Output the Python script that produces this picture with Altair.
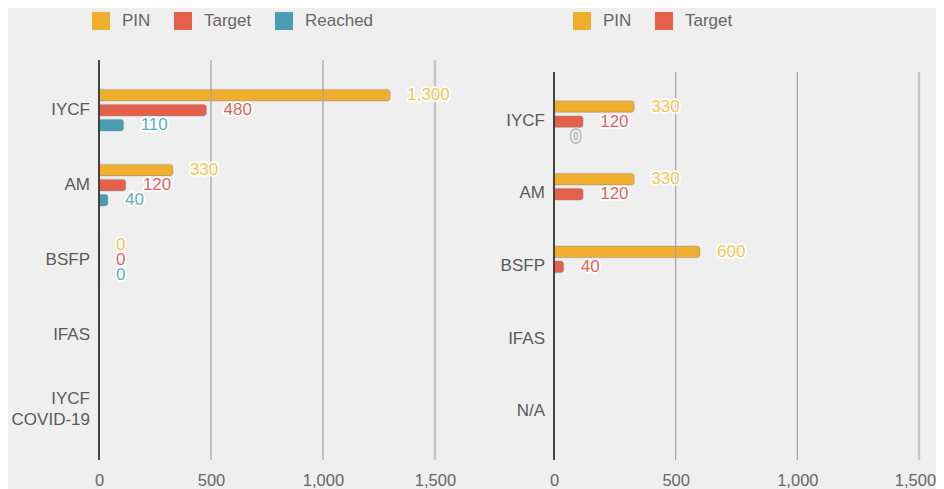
import altair as alt
import pandas as pd

# ---------------- data ----------------
series = ["PIN", "Target", "Reached"]

left_categories = ["IYCF", "AM", "BSFP", "IFAS", "IYCF COVID-19"]
left_with_data = ["IYCF", "AM", "BSFP"]
left_pin = [1300, 330, 0]
left_target = [480, 120, 0]
left_reached = [110, 40, 0]

right_categories = ["IYCF", "AM", "BSFP", "IFAS", "N/A"]
right_with_data = ["IYCF", "AM", "BSFP"]
right_pin = [330, 330, 600]
right_target = [120, 120, 40]
right_reached_cats = ["IYCF"]
right_reached = [0]

x_ticks = [0, 500, 1000, 1500]

# ---------------- styles ----------------
bar_colors = {"PIN": "#F0AE2E", "Target": "#E5604A", "Reached": "#4A9CB0"}
label_colors = {"PIN": "#F2C44E", "Target": "#E0625A", "Reached": "#5AAEC0"}
FONT = "Liberation Sans"
FS = 17
BG = "#EFEFEF"


def rows(cats, vals, s, legend_series):
    out = []
    for c, v in zip(cats, vals):
        known = s in legend_series
        out.append({
            "cat": c, "series": s, "value": v,
            "fill": label_colors[s] if known else "#FAFAFA",
            "halo": "#FFFFFF" if known else "#BDBDBD",
        })
    return out


left_series = ["PIN", "Target", "Reached"]
right_series = ["PIN", "Target"]

left_df = pd.DataFrame(
    rows(left_with_data, left_pin, "PIN", left_series)
    + rows(left_with_data, left_target, "Target", left_series)
    + rows(left_with_data, left_reached, "Reached", left_series)
)
right_df = pd.DataFrame(
    rows(right_with_data, right_pin, "PIN", right_series)
    + rows(right_with_data, right_target, "Target", right_series)
    + rows(right_reached_cats, right_reached, "Reached", right_series)
)
grid_inner_df = pd.DataFrame({"value": x_ticks[1:-1]})
grid_edge_df = pd.DataFrame({"value": x_ticks[-1:]})


def panel(df, cats, legend_series, width, height, gap, legend_x, legend_y, off_pad,
          last_label_shift):
    label_expr = "datum.label == 'IYCF COVID-19' ? ['IYCF', 'COVID-19'] : datum.label"
    y_scale = alt.Scale(domain=cats, range=[gap, height], paddingInner=0.2, paddingOuter=0.27)
    y = alt.Y(
        "cat:N",
        sort=cats,
        scale=y_scale,
        axis=alt.Axis(
            title=None, labelExpr=label_expr, labelFontSize=FS, labelColor="#5a5a5a",
            labelFont=FONT, labelPadding=9.5, ticks=False, domain=False,
            grid=False, labelLineHeight=21,
            labelOffset={"condition": {"test": "datum.value === 'IYCF COVID-19'",
                                       "value": -10.5}, "value": 0},
        ),
    )
    x_scale = alt.Scale(domain=[0, 1500], nice=False)
    x = alt.X(
        "value:Q",
        scale=x_scale,
        axis=alt.Axis(
            values=x_ticks, format=",.0f", title=None, grid=False, domain=False,
            ticks=False, labelPadding=12, labelFontSize=16.5, labelColor="#666666",
            labelFont=FONT, labelFlush=False,
            labelOffset={"condition": {"test": "datum.value === 1500",
                                       "value": last_label_shift}, "value": 0},
        ),
    )
    yoff = alt.YOffset(
        "series:N", sort=series,
        scale=alt.Scale(domain=series, paddingInner=0.22, paddingOuter=off_pad),
    )
    color = alt.Color(
        "series:N",
        scale=alt.Scale(domain=legend_series, range=[bar_colors[s] for s in legend_series]),
        legend=alt.Legend(
            title=None, orient="none", legendX=legend_x, legendY=legend_y,
            direction="horizontal", symbolType="square", symbolSize=324,
            symbolStrokeWidth=0, labelFontSize=FS, labelColor="#666666",
            labelFont=FONT, labelOffset=12, columnPadding=23, padding=0,
        ),
    )
    bar_df = df[df["series"].isin(legend_series)]
    bars = alt.Chart(bar_df).mark_bar(
        cornerRadiusEnd=3, stroke="#8a8a8a", strokeWidth=0.6, strokeOpacity=0.55
    ).encode(x=x, y=y, yOffset=yoff, color=color)
    grid = alt.Chart(grid_inner_df).mark_rule(color="#A3A3A3", strokeWidth=1.2).encode(
        x=x, y=alt.value(gap), y2=alt.value(height)
    )
    grid_edge = alt.Chart(grid_edge_df).mark_rule(color="#C6C6C6", strokeWidth=2.5).encode(
        x=x, y=alt.value(gap), y2=alt.value(height)
    )
    zero = alt.Chart(grid_inner_df).mark_rule(color="#3A3A3A", strokeWidth=1.5).encode(
        x=alt.datum(0), y=alt.value(gap), y2=alt.value(height)
    )
    common = dict(
        x=x, y=y, yOffset=yoff, text=alt.Text("value:Q", format=",.0f"),
    )
    halo = alt.Chart(df).mark_text(
        align="left", baseline="middle", dx=17, fontSize=FS, font=FONT,
        strokeWidth=3.5, strokeJoin="round",
    ).encode(
        stroke=alt.Stroke("halo:N", scale=None),
        fill=alt.Fill("halo:N", scale=None),
        **common,
    )
    text = alt.Chart(df).mark_text(
        align="left", baseline="middle", dx=17, fontSize=FS, font=FONT,
    ).encode(
        fill=alt.Fill("fill:N", scale=None),
        **common,
    )
    return alt.layer(bars, grid, grid_edge, zero, halo, text).properties(
        width=width, height=height
    )


left = panel(left_df, left_categories, left_series, 336, 400, 0, -7, -48, 0.6, 0)
right = panel(right_df, right_categories, right_series, 365, 400, 12, 19, -48, 0.43, -4)

chart = (
    alt.hconcat(left, right, spacing=119, bounds="flush")
    .resolve_scale(color="independent", x="independent", y="independent")
    .properties(background=BG, padding={"left": 3, "top": 4, "right": 0, "bottom": 0})
    .configure_view(stroke=None)
)

chart.save("out.html", embed_options={"renderer": "svg", "actions": False})
